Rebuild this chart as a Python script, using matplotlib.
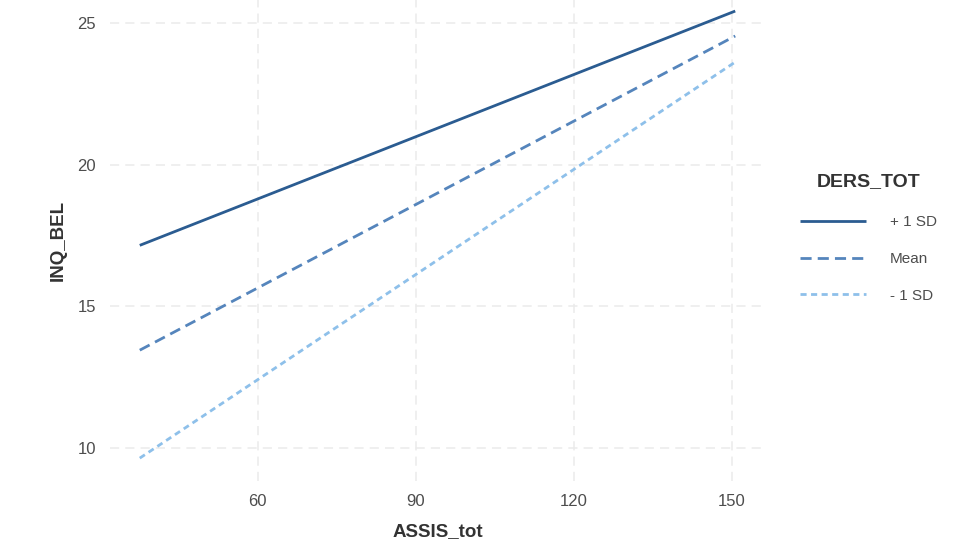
import matplotlib
matplotlib.use("Agg")
import matplotlib.pyplot as plt

# Simple slopes of INQ_BEL on ASSIS_tot at three levels of DERS_TOT.
ASSIS_RANGE = [37.6, 150.6]
LEVELS = ["+ 1 SD", "Mean", "- 1 SD"]
INQ_PLUS = [17.15, 25.42]
INQ_MEAN = [13.45, 24.54]
INQ_MINUS = [9.64, 23.62]

X_TICKS = [60, 90, 120, 150]
Y_TICKS = [10, 15, 20, 25]

plt.rcParams["font.family"] = ["Liberation Sans", "DejaVu Sans"]

fig = plt.figure(figsize=(9.7, 5.5), dpi=100)
ax = fig.add_axes([110 / 970, 1 - 480.5 / 550, 655 / 970, 480.5 / 550])

styles = [
    dict(color="#2B5C91", ls="-"),
    dict(color="#5585BC", ls=(0, (4, 2.2))),
    dict(color="#8EC0EA", ls=(0, (2.2, 1.6))),
]
for label, ys, st in zip(LEVELS, [INQ_PLUS, INQ_MEAN, INQ_MINUS], styles):
    ax.plot(ASSIS_RANGE, ys, lw=2.0, label=label, solid_capstyle="butt",
            dash_capstyle="butt", **st)

ax.set_xlim(31.95, 156.25)
ax.set_ylim(8.85, 25.81)
ax.set_xticks(X_TICKS)
ax.set_yticks(Y_TICKS)
ax.grid(True, color="#ebebeb", lw=1.1, ls=(0, (6, 4)))
ax.set_axisbelow(True)
for s in ax.spines.values():
    s.set_visible(False)
ax.tick_params(length=0, labelsize=12, labelcolor="#4d4d4d", pad=10)

ax.set_xlabel("ASSIS_tot", fontsize=13.5, fontweight="bold", color="#333333", labelpad=10)
ax.set_ylabel("INQ_BEL", fontsize=13.5, fontweight="bold", color="#333333", labelpad=8)

leg = ax.legend(title="DERS_TOT", loc="center left", bbox_to_anchor=(1.044, 0.505),
                frameon=False, fontsize=11, handlelength=4.3, handletextpad=1.6,
                labelspacing=1.5, borderaxespad=0)
leg.get_title().set_fontweight("bold")
leg.get_title().set_fontsize(14)
leg.get_title().set_color("#333333")
leg._legend_box.sep = 18
for t in leg.get_texts():
    t.set_color("#4d4d4d")

fig.savefig("out.png", dpi=100, facecolor="white")
